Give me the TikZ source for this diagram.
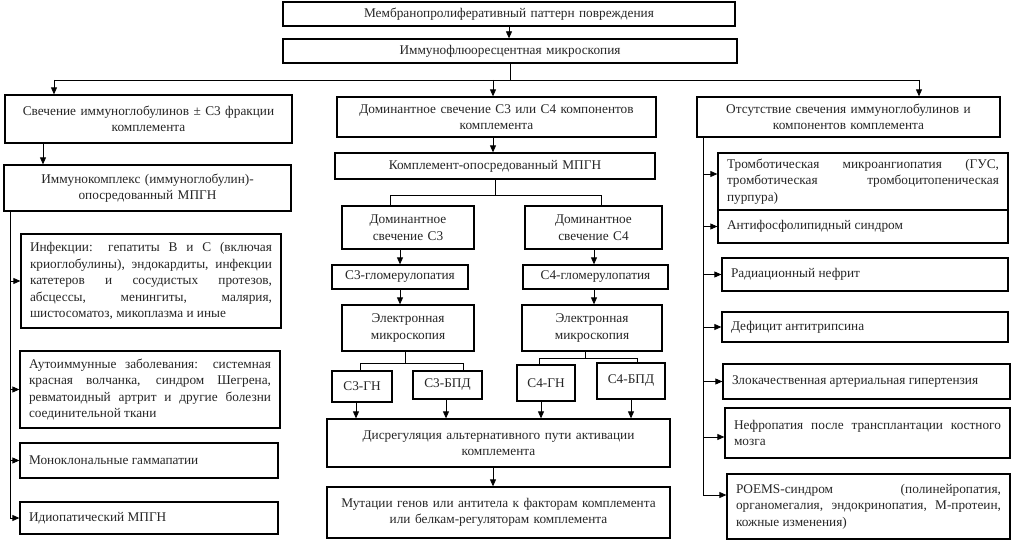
\documentclass[tikz,border=0pt]{standalone}
\usepackage{fontspec}
\setmainfont{Liberation Serif}
\usetikzlibrary{arrows.meta}
\newcommand\myfs{\fontsize{13.3}{16.5}\selectfont\hyphenpenalty=10000\exhyphenpenalty=10000\color{black!85}}
\begin{document}
\begin{tikzpicture}[x=1pt,y=-1pt,
  box/.style={draw, line width=1.3pt, inner sep=0pt, align=center, font=\myfs},
  jbox/.style={draw, line width=1.3pt, inner ysep=0pt, inner xsep=9pt, align=justify, font=\myfs},
  conn/.style={line width=0.8pt},
  arr/.style={line width=0.8pt, -{Triangle[length=7pt,width=6pt]}}]
\useasboundingbox[fill=white] (0,0) rectangle (1012,543);
% top
\node[box, minimum width=452pt, minimum height=24pt, text width=440pt] (top) at (509,14) {Мембранопролиферативный паттерн повреждения};
\node[box, minimum width=454pt, minimum height=24pt, text width=440pt] (im) at (510,51) {Иммунофлюоресцентная микроскопия};
\node[box, minimum width=287pt, minimum height=48pt, text width=280pt] (L0) at (148.5,119) {Свечение иммуноглобулинов ± С3 фракции\\комплемента};
\node[box, minimum width=319pt, minimum height=40pt, text width=310pt] (M0) at (496.5,117) {Доминантное свечение С3 или С4 компонентов\\комплемента};
\node[box, minimum width=303pt, minimum height=40pt, text width=296pt] (R0) at (848.5,117) {Отсутствие свечения иммуноглобулинов и\\компонентов комплемента};
% left
\node[box, minimum width=287pt, minimum height=46pt, text width=280pt] (L1) at (147.5,188) {Иммунокомплекс (иммуноглобулин)-\\опосредованный МПГН};
\node[jbox, minimum width=260pt, minimum height=94pt, text width=242pt] (L2) at (151,281) {Инфекции: гепатиты В и С (включая\linebreak криоглобулины), эндокардиты, инфекции\linebreak катетеров и сосудистых протезов,\linebreak абсцессы, менингиты, малярия,\linebreak шистосоматоз, микоплазма и иные};
\node[jbox, minimum width=260pt, minimum height=77pt, text width=242pt] (L3) at (150,389.5) {Аутоиммунные заболевания: системная\linebreak красная волчанка, синдром Шегрена,\linebreak ревматоидный артрит и другие болезни\linebreak соединительной ткани};
\node[jbox, minimum width=258pt, minimum height=35pt, text width=240pt] (L4) at (149,460.5) {Моноклональные гаммапатии};
\node[jbox, minimum width=258pt, minimum height=32pt, text width=240pt] (L5) at (149,518) {Идиопатический МПГН};
% middle
\node[box, minimum width=320pt, minimum height=26pt, text width=310pt] (M1) at (495,166) {Комплемент-опосредованный МПГН};
\node[box, minimum width=132pt, minimum height=43pt, text width=126pt] (M2a) at (408,227.5) {Доминантное\\свечение С3};
\node[box, minimum width=137pt, minimum height=43pt, text width=130pt] (M2b) at (593.5,227.5) {Доминантное\\свечение С4};
\node[box, minimum width=136pt, minimum height=24pt, text width=130pt] (M3a) at (400,277) {С3-гломерулопатия};
\node[box, minimum width=145pt, minimum height=24pt, text width=138pt] (M3b) at (595.5,277) {С4-гломерулопатия};
\node[box, minimum width=132pt, minimum height=46pt, text width=126pt] (M4a) at (408,328) {Электронная\\микроскопия};
\node[box, minimum width=140pt, minimum height=46pt, text width=134pt] (M4b) at (592,328) {Электронная\\микроскопия};
\node[box, minimum width=60pt, minimum height=31pt, text width=56pt] (M5a) at (362,386.5) {С3-ГН};
\node[box, minimum width=69pt, minimum height=28pt, text width=64pt] (M5b) at (447.5,385) {С3-БПД};
\node[box, minimum width=58pt, minimum height=36pt, text width=54pt] (M5c) at (546,383) {С4-ГН};
\node[box, minimum width=68pt, minimum height=36pt, text width=64pt] (M5d) at (631,381) {С4-БПД};
\node[box, minimum width=343pt, minimum height=48pt, text width=336pt] (M6) at (498.5,443) {Дисрегуляция альтернативного пути активации\\комплемента};
\node[box, minimum width=343pt, minimum height=51pt, text width=336pt] (M7) at (498.5,512.5) {Мутации генов или антитела к факторам комплемента\\или белкам-регуляторам комплемента};
% right
\node[jbox, minimum width=290pt, minimum height=57pt, text width=272pt] (R1) at (863,181.5) {Тромботическая микроангиопатия (ГУС,\linebreak тромботическая тромбоцитопеническая\linebreak пурпура)};
\node[jbox, minimum width=290pt, minimum height=33pt, text width=272pt] (R2) at (863,226.5) {Антифосфолипидный синдром};
\node[jbox, minimum width=286pt, minimum height=33pt, text width=268pt] (R3) at (865,274.5) {Радиационный нефрит};
\node[jbox, minimum width=286pt, minimum height=30pt, text width=268pt] (R4) at (865,327) {Дефицит антитрипсина};
\node[jbox, minimum width=287pt, minimum height=35pt, text width=269pt] (R5) at (866.5,381.5) {Злокачественная артериальная гипертензия};
\node[jbox, minimum width=285pt, minimum height=50pt, text width=267pt] (R6) at (867.5,433) {Нефропатия после трансплантации костного\linebreak мозга};
\node[jbox, minimum width=283pt, minimum height=65pt, text width=265pt] (R7) at (868.5,506.5) {POEMS-синдром (полинейропатия,\linebreak органомегалия, эндокринопатия, М-протеин,\linebreak кожные изменения)};
% connectors top
\draw[arr] (top.south) -- (top.south |- im.north);
\coordinate (bL) at (54,80);
\coordinate (bR) at (919,80);
\coordinate (mm) at (493,0);
\draw[conn] (im.south) -- (im.south |- bL);
\draw[conn] (bL) -- (bR);
\draw[arr] (bL) -- (bL |- L0.north);
\draw[arr] (mm |- bL) -- (mm |- M0.north);
\draw[arr] (bR) -- (bR |- R0.north);
% left connectors
\coordinate (lA) at (43,0);
\coordinate (lT) at (10,0);
\draw[arr] (lA |- L0.south) -- (lA |- L1.north);
\draw[conn] (lT |- L1.south) -- (lT |- L5.west);
\foreach \n in {L2,L3,L4,L5} \draw[arr] (lT |- \n.west) -- (\n.west);
% middle connectors
\draw[arr] (mm |- M0.south) -- (mm |- M1.north);
\coordinate (m2l) at (390,195);
\coordinate (m2r) at (601,195);
\draw[conn] (M1.south) -- (M1.south |- m2l);
\draw[conn] (m2l |- M2a.north) -- (m2l) -- (m2r) -- (m2r |- M2b.north);
\coordinate (ca) at (400,0);
\coordinate (cb) at (594,0);
\draw[arr] (ca |- M2a.south) -- (ca |- M3a.north);
\draw[arr] (ca |- M3a.south) -- (ca |- M4a.north);
\draw[arr] (cb |- M2b.south) -- (cb |- M3b.north);
\draw[arr] (cb |- M3b.south) -- (cb |- M4b.north);
\coordinate (e3) at (405,363);
\coordinate (e3l) at (360,363);
\coordinate (e3r) at (463,363);
\draw[conn] (e3 |- M4a.south) -- (e3);
\draw[conn] (e3l |- M5a.north) -- (e3l) -- (e3r) -- (e3r |- M5b.north);
\coordinate (e4) at (585,358);
\coordinate (e4l) at (539,358);
\coordinate (e4r) at (637,358);
\draw[conn] (e4 |- M4b.south) -- (e4);
\draw[conn] (e4l |- M5c.north) -- (e4l) -- (e4r) -- (e4r |- M5d.north);
\coordinate (da) at (356,0);
\coordinate (db) at (446,0);
\coordinate (dc) at (541,0);
\coordinate (dd) at (631,0);
\draw[arr] (da |- M5a.south) -- (da |- M6.north);
\draw[arr] (db |- M5b.south) -- (db |- M6.north);
\draw[arr] (dc |- M5c.south) -- (dc |- M6.north);
\draw[arr] (dd |- M5d.south) -- (dd |- M6.north);
\draw[arr] (mm |- M6.south) -- (mm |- M7.north);
% right connectors
\coordinate (rT) at (703,0);
\coordinate (R1a) at ([yshift=7.5pt]R1.west);
\coordinate (R6a) at ([yshift=-4pt]R6.west);
\coordinate (R7a) at ([yshift=11.5pt]R7.west);
\draw[conn] (rT |- R0.south) -- (rT |- R7a);
\foreach \n in {R1a,R2.west,R3.west,R4.west,R5.west,R6a,R7a} \draw[arr] (rT |- \n) -- (\n);
\end{tikzpicture}
\end{document}
